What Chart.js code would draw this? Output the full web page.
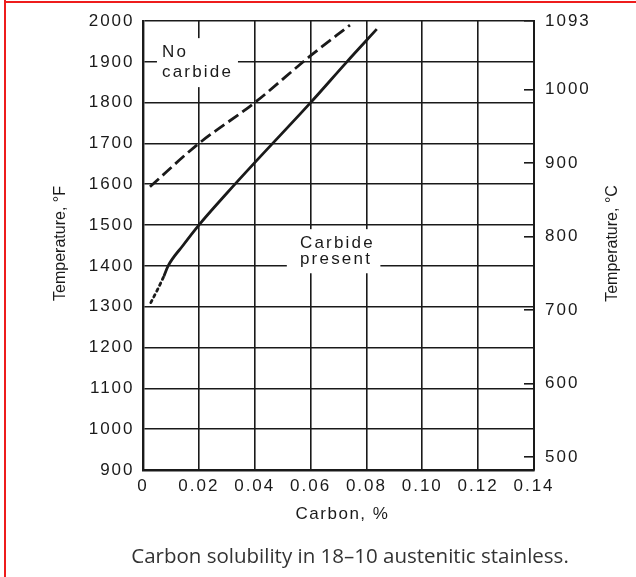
<!DOCTYPE html>
<html>
<head>
<meta charset="utf-8">
<script src="https://cdn.jsdelivr.net/npm/chart.js@4.4.1/dist/chart.umd.min.js"></script>
<style>
  html, body { margin: 0; padding: 0; background: #fff; }
  #wrap { width: 636px; height: 577px; }
</style>
</head>
<body>
<div id="wrap"><canvas id="c" width="636" height="577"></canvas></div>
<script>
// --- data ---
const X_TICKS = [0, 0.02, 0.04, 0.06, 0.08, 0.10, 0.12, 0.14];
const X_LABELS = ['0', '0.02', '0.04', '0.06', '0.08', '0.10', '0.12', '0.14'];
const F_MIN = 900, F_MAX = 2000, F_STEP = 100;
const C_TICKS = [500, 600, 700, 800, 900, 1000, 1093];

// dashed line (upper limit)
const DASH_C = [0.0025, 0.02, 0.04, 0.06, 0.0741];
const DASH_T = [1594, 1700, 1800, 1915, 1990];

// dotted start of the solubility curve
const DOT_C = [0.0028, 0.0052, 0.0075];
const DOT_T = [1310, 1342, 1375];

// solid solubility curve
const SOLID_C = [0.0075, 0.009, 0.0143, 0.02, 0.03, 0.04, 0.06, 0.073, 0.0837];
const SOLID_T = [1375, 1400, 1450, 1500, 1578, 1653, 1800, 1900, 1980];

const toC = f => (f - 32) * 5 / 9;
const pts = (xs, ys) => xs.map((x, i) => ({ x: x, y: ys[i] }));

const INK = '#1a1a1a';
const SANS = "'Liberation Sans', Arial, Helvetica, sans-serif";

function textBox(ctx, xs, ys, x0, x1, y0, y1) {
  const l = xs.getPixelForValue(x0), r = xs.getPixelForValue(x1);
  const t = ys.getPixelForValue(y0), b = ys.getPixelForValue(y1);
  ctx.fillStyle = '#fff';
  ctx.fillRect(l, t, r - l, b - t);
}

// fixed box sizes so the plot area lands where the original has it
function fixSize(w, h) {
  return s => {
    if (w) s.width = w;
    if (h) s.height = h;
    s.paddingTop = 0; s.paddingBottom = 0; s.paddingLeft = 0; s.paddingRight = 0;
  };
}

const annot = {
  id: 'annot',
  beforeDraw(chart) {
    const ctx = chart.ctx;
    ctx.save();
    ctx.fillStyle = '#ee1c1c';
    ctx.fillRect(4, 0, 2, 577);
    ctx.fillRect(4, 1, 632, 2);
    ctx.restore();
    ctx.letterSpacing = '2px';
  },
  beforeDatasetsDraw(chart) {
    const ctx = chart.ctx, xs = chart.scales.x, ys = chart.scales.y;
    ctx.save();
    textBox(ctx, xs, ys, 0.005, 0.034, 1958, 1838);
    textBox(ctx, xs, ys, 0.0515, 0.085, 1490, 1382);
    ctx.fillStyle = INK;
    ctx.font = '17px ' + SANS;
    ctx.textAlign = 'left';
    ctx.textBaseline = 'alphabetic';
    ctx.letterSpacing = '2.2px';
    ctx.fillText('No', xs.getPixelForValue(0.0068), ys.getPixelForValue(1912));
    ctx.fillText('carbide', xs.getPixelForValue(0.0068), ys.getPixelForValue(1863));
    ctx.fillText('Carbide', xs.getPixelForValue(0.0562), ys.getPixelForValue(1443));
    ctx.fillText('present', xs.getPixelForValue(0.0562), ys.getPixelForValue(1405));
    ctx.restore();
  },
  afterDraw(chart) {
    const ctx = chart.ctx, a = chart.chartArea;
    ctx.save();
    ctx.fillStyle = INK;
    ctx.textAlign = 'center';
    ctx.textBaseline = 'middle';
    ctx.letterSpacing = '0px';
    ctx.font = '16px ' + SANS;
    const midY = (a.top + a.bottom) / 2 - 2;
    ctx.save();
    ctx.translate(61, midY);
    ctx.rotate(-Math.PI / 2);
    ctx.fillText('Temperature, °F', 0, 0);
    ctx.restore();
    ctx.save();
    ctx.translate(613, midY);
    ctx.rotate(-Math.PI / 2);
    ctx.fillText('Temperature, °C', 0, 0);
    ctx.restore();
    ctx.letterSpacing = '1.5px';
    ctx.font = '17px ' + SANS;
    ctx.fillText('Carbon, %', (a.left + a.right) / 2 + 4, 514);
    ctx.letterSpacing = '0px';
    ctx.fillStyle = '#333';
    ctx.font = "20.5px 'Open Sans', 'Noto Sans', sans-serif";
    ctx.fillText('Carbon solubility in 18–10 austenitic stainless.', 350, 557);
    ctx.restore();
  }
};

const lineStyle = { showLine: true, pointRadius: 0, borderColor: INK, borderWidth: 2.8, cubicInterpolationMode: 'monotone', fill: false };

new Chart(document.getElementById('c'), {
  type: 'scatter',
  data: {
    datasets: [
      Object.assign({ label: 'limit', data: pts(DASH_C, DASH_T), borderDash: [12, 5] }, lineStyle),
      Object.assign({ label: 'dotted', data: pts(DOT_C, DOT_T), borderDash: [2.5, 4], borderCapStyle: 'round' }, lineStyle),
      Object.assign({ label: 'solubility', data: pts(SOLID_C, SOLID_T) }, lineStyle)
    ]
  },
  options: {
    responsive: false,
    animation: false,
    devicePixelRatio: 1,
    layout: { padding: { top: 21, left: 0, right: 0, bottom: 0 } },
    plugins: { legend: { display: false }, tooltip: { enabled: false }, title: { display: false } },
    scales: {
      x: {
        type: 'linear', position: 'bottom', min: 0, max: 0.14,
        afterFit: fixSize(0, 107),
        afterBuildTicks: s => { s.ticks = X_TICKS.map(v => ({ value: v })); },
        ticks: {
          padding: 6, color: INK, font: { size: 17, family: SANS },
          callback: (v, i) => X_LABELS[i]
        },
        grid: { color: INK, lineWidth: 1.6, drawTicks: false },
        border: { color: INK, width: 2.4 }
      },
      y: {
        type: 'linear', position: 'left', min: F_MIN, max: F_MAX,
        afterFit: fixSize(143, 0),
        ticks: { stepSize: F_STEP, padding: 8.5, color: INK, font: { size: 17, family: SANS }, callback: v => String(v) },
        grid: { color: INK, lineWidth: 1.6, drawTicks: false },
        border: { color: INK, width: 2.4 }
      },
      y2: {
        type: 'linear', position: 'right', min: toC(F_MIN), max: toC(F_MAX),
        afterFit: fixSize(102, 0),
        afterBuildTicks: s => { s.ticks = C_TICKS.map(v => ({ value: v })); },
        ticks: { padding: 21, color: INK, font: { size: 17, family: SANS }, callback: v => String(v) },
        grid: { drawOnChartArea: false, drawTicks: true, tickLength: -10, color: INK, lineWidth: 1.6 },
        border: { color: INK, width: 2 }
      }
    }
  },
  plugins: [annot]
});
</script>
</body>
</html>
